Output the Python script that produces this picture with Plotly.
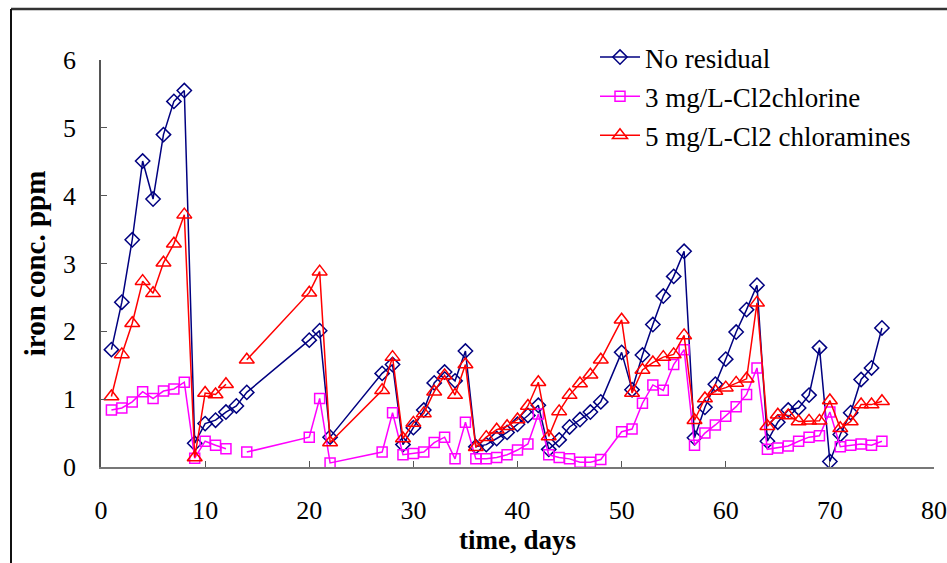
import plotly.graph_objects as go

days = [1, 2, 3, 4, 5, 6, 7, 8, 9, 10, 11, 12, 13, 14, 20, 21, 22, 27, 28,
        29, 30, 31, 32, 33, 34, 35, 36, 37, 38, 39, 40, 41, 42, 43, 44, 45, 46, 47, 48,
        50, 51, 52, 53, 54, 55, 56, 57, 58, 59, 60, 61, 62, 63, 64, 65, 66, 67, 68, 69,
        70, 71, 72, 73, 74, 75]

no_residual = [1.73, 2.43, 3.35, 4.51, 3.95, 4.90, 5.39, 5.55, 0.35, 0.64, 0.69, 0.81, 0.90, 1.10,
               1.87, 2.01, 0.44, 1.38, 1.51,
               0.33, 0.58, 0.84, 1.24, 1.40, 1.27, 1.71, 0.30, 0.33, 0.42, 0.51, 0.63, 0.76, 0.91,
               0.26, 0.40, 0.59, 0.70, 0.81, 0.96,
               1.69, 1.14, 1.65, 2.10, 2.52, 2.81, 3.18, 0.43, 0.88, 1.22, 1.59, 1.99, 2.32, 2.68,
               0.38, 0.66, 0.84, 0.87, 1.06, 1.76, 0.08, 0.48, 0.80, 1.29, 1.46, 2.05]

chlorine = [0.84, 0.87, 0.96, 1.11, 1.01, 1.12, 1.15, 1.25, 0.13, 0.38, 0.32, 0.27, None, 0.22,
            0.44, 1.01, 0.06, 0.22, 0.80,
            0.18, 0.20, 0.22, 0.36, 0.44, 0.12, 0.66, 0.12, 0.12, 0.14, 0.18, 0.25, 0.34, 0.78,
            0.18, 0.14, 0.12, 0.07, 0.07, 0.11,
            0.52, 0.56, 0.94, 1.21, 1.13, 1.51, 1.73, 0.32, 0.50, 0.62, 0.75, 0.89, 1.07, 1.46,
            0.26, 0.28, 0.31, 0.38, 0.44, 0.46, 0.81, 0.30, 0.32, 0.34, 0.32, 0.38]

chloramines = [1.04, 1.66, 2.12, 2.74, 2.56, 3.01, 3.29, 3.72, 0.14, 1.09, 1.07, 1.22, None, 1.58,
               2.57, 2.88, 0.36, 1.13, 1.62,
               0.42, 0.65, 0.79, 1.11, 1.35, 1.06, 1.51, 0.29, 0.44, 0.55, 0.60, 0.70, 0.90, 1.25,
               0.45, 0.82, 1.06, 1.23, 1.36, 1.58,
               2.17, 1.09, 1.43, 1.54, 1.62, 1.66, 1.94, 0.69, 1.01, 1.12, 1.17, 1.24, 1.30, 2.42,
               0.60, 0.77, 0.76, 0.67, 0.68, 0.68, 0.98, 0.57, 0.67, 0.92, 0.92, 0.97]

series_names = ["No residual", "3 mg/L-Cl2chlorine", "5 mg/L-Cl2 chloramines"]
x_ticks = [0, 10, 20, 30, 40, 50, 60, 70, 80]
y_ticks = [0, 1, 2, 3, 4, 5, 6]

FONT = "Liberation Serif, Times New Roman, serif"

fig = go.Figure()
styles = [
    (no_residual, "#000080", "diamond-open", 11),
    (chlorine, "#FF00FF", "square-open", 10),
    (chloramines, "#FF0000", "triangle-up-open", 13),
]
for i, (vals, color, sym, sz) in enumerate(styles):
    fig.add_trace(go.Scatter(
        x=days, y=vals, name=series_names[i], mode="lines+markers",
        connectgaps=False, legendgroup=f"g{i}",
        line=dict(color=color, width=1.5),
        marker=dict(symbol=sym, size=sz, color=color, line=dict(color=color, width=1.5)),
    ))

W, H = 947, 563
L, R, T, B = 101, 13, 60, 96
pw, ph = W - L - R, H - T - B


def px_x(p):
    return (p - L) / pw


def px_y(p):
    return (H - B - p) / ph


fig.update_layout(
    width=W, height=H,
    margin=dict(l=L, r=R, t=T, b=B, autoexpand=False),
    paper_bgcolor="white", plot_bgcolor="white",
    font=dict(family=FONT, size=26, color="black"),
    showlegend=True,
    legend=dict(x=px_x(595), y=px_y(33), xanchor="left", yanchor="top",
                bgcolor="rgba(0,0,0,0)", font=dict(family=FONT, size=27),
                tracegroupgap=1, itemwidth=40),
    xaxis=dict(range=[0, 80], tickvals=x_ticks, ticks="inside", ticklen=6,
               tickcolor="#555", showline=True, linecolor="#777", linewidth=1.5,
               showgrid=False, zeroline=False, ticklabelstandoff=19, automargin=False,
               tickfont=dict(family=FONT, size=26),
               title=dict(text="<b>time, days</b>", font=dict(family=FONT, size=27), standoff=3)),
    yaxis=dict(range=[0, 6], tickvals=y_ticks, ticks="inside", ticklen=6,
               tickcolor="#555", showline=True, linecolor="#555", linewidth=1.5,
               showgrid=False, zeroline=False, ticklabelstandoff=18, automargin=False,
               tickfont=dict(family=FONT, size=26),
               title=dict(text="<b>iron conc. ppm</b>", font=dict(family=FONT, size=29), standoff=9)),
    shapes=[
        dict(type="line", xref="paper", yref="paper", x0=px_x(11), x1=px_x(W + 2),
             y0=px_y(9), y1=px_y(9), line=dict(color="#333333", width=2.5)),
        dict(type="line", xref="paper", yref="paper", x0=px_x(11), x1=px_x(11),
             y0=px_y(9), y1=px_y(H + 2), line=dict(color="#111111", width=2)),
    ],
)

fig.write_html("out.html")
